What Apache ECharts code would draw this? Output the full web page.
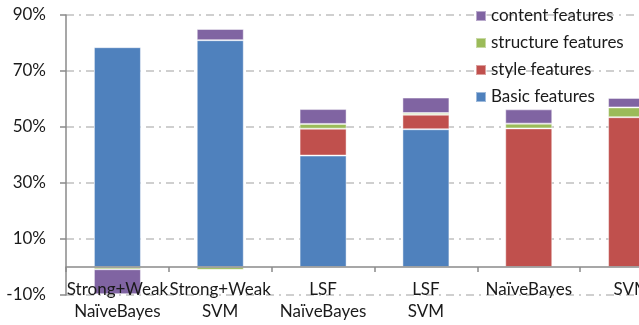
<!DOCTYPE html>
<html>
<head>
<meta charset="utf-8">
<script src="https://cdn.jsdelivr.net/npm/echarts@6/dist/echarts.min.js"></script>
<style>
html,body{margin:0;padding:0;background:#fff;}
#chart{width:639px;height:325px;}
</style>
</head>
<body>
<div id="chart"></div>
<script>
var categories = ['Strong+Weak\nNaïveBayes', 'Strong+Weak\nSVM', 'LSF\nNaïveBayes', 'LSF\nSVM', 'NaïveBayes', 'SVM'];
var basicFeatures = [78.5, 81, 39.8, 49.2, 0, 0];
var styleFeatures = [0, 0, 9.6, 5.2, 49.5, 53.5];
var structureFeatures = [-0.8, -1, 1.7, 0.6, 1.7, 3.5];
var contentFeatures = [-8.9, 4, 5.3, 5.5, 5.1, 3.4];
var yTicks = [-10, 10, 30, 50, 70, 90];

var FONT = 'Lato';
function clean(arr){ return arr.map(function(v){ return v === 0 ? '-' : v; }); }
function mk(name, data, color){
  return {
    name: name, type: 'bar', stack: 'total', data: clean(data),
    barWidth: 47,
    itemStyle: {color: color, borderColor: 'rgba(255,255,255,0.45)', borderWidth: 1},
    emphasis: {disabled: true}
  };
}
var chart = echarts.init(document.getElementById('chart'), null, {renderer: 'canvas'});
chart.setOption({
  animation: false,
  backgroundColor: '#ffffff',
  textStyle: {fontFamily: FONT},
  grid: {left: 66, width: 617, top: 15, bottom: 30, containLabel: false, outerBoundsMode: 'none'},
  legend: {
    orient: 'vertical', left: 470, top: 2,
    itemWidth: 10, itemHeight: 10, itemGap: 9,
    icon: 'rect',
    data: ['content features', 'structure features', 'style features', 'Basic features'],
    textStyle: {fontFamily: FONT, fontSize: 17, color: '#1a1a1a', lineHeight: 18}
  },
  xAxis: {
    type: 'category', data: categories, z: 5,
    axisLine: {onZero: true, lineStyle: {color: '#8a8a8a', width: 1.5}},
    axisTick: {show: true, length: 5, lineStyle: {color: '#8a8a8a', width: 1.5}},
    axisLabel: {interval: 0, fontFamily: FONT, fontSize: 17, lineHeight: 22, color: '#1a1a1a', margin: -16}
  },
  yAxis: {
    type: 'value', min: yTicks[0], max: yTicks[yTicks.length-1], interval: 20,
    axisLine: {show: true, lineStyle: {color: '#8a8a8a', width: 1.5}},
    axisTick: {show: true, length: 6, lineStyle: {color: '#8a8a8a', width: 1.5}},
    axisLabel: {fontFamily: FONT, fontSize: 17, color: '#1a1a1a', margin: 20, formatter: function(v){ return v + '%'; }},
    splitLine: {show: true, lineStyle: {color: '#c0c0c0', width: 1.5, type: [8,5,2,5]}}
  },
  series: [
    mk('Basic features', basicFeatures, '#4F81BD'),
    mk('style features', styleFeatures, '#C0504D'),
    mk('structure features', structureFeatures, '#9BBB59'),
    mk('content features', contentFeatures, '#8064A2')
  ]
});
</script>
</body>
</html>
